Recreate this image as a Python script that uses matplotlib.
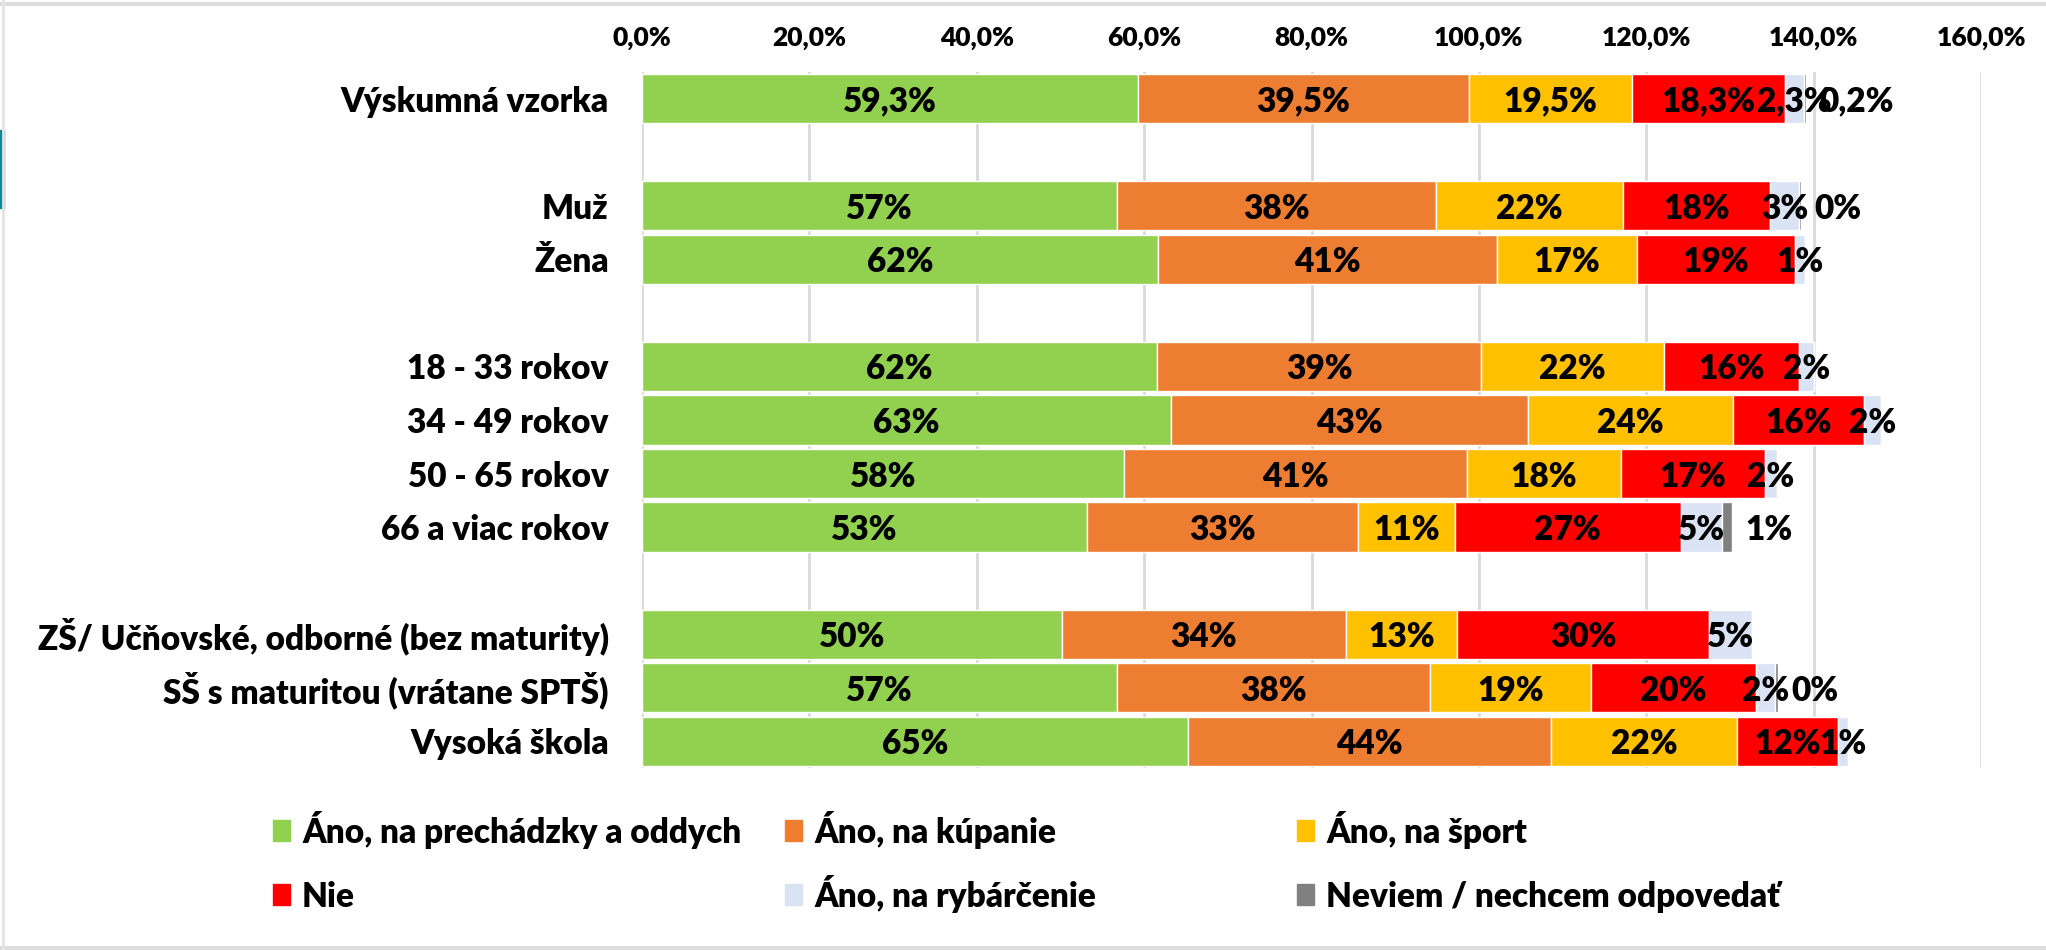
import matplotlib.pyplot as plt
import matplotlib.patches as mpatches
from matplotlib.ticker import FuncFormatter, MultipleLocator
import numpy as np

plt.rcParams['font.family'] = ['Lato', 'DejaVu Sans']

CATEGORIES = ["Výskumná vzorka", "Muž", "Žena",
              "18 - 33 rokov", "34 - 49 rokov", "50 - 65 rokov", "66 a viac rokov",
              "ZŠ/ Učňovské, odborné (bez maturity)", "SŠ s maturitou (vrátane SPTŠ)", "Vysoká škola"]
GROUP_SIZES = [1, 2, 4, 3]

SERIES = ["Áno, na prechádzky a oddych", "Áno, na kúpanie", "Áno, na šport",
          "Nie", "Áno, na rybárčenie", "Neviem / nechcem odpovedať"]
COLORS = ["#92D050", "#ED7D31", "#FFC000", "#FF0000", "#DAE3F3", "#808080"]

prechadzky = [59.3, 56.8, 61.6, 61.5, 63.2, 57.6, 53.2, 50.2, 56.8, 65.2]
kupanie = [39.5, 38.1, 40.6, 38.8, 42.7, 41.0, 32.4, 33.9, 37.4, 43.4]
sport = [19.5, 22.3, 16.7, 21.8, 24.5, 18.4, 11.5, 13.3, 19.2, 22.3]
nie = [18.3, 17.6, 18.9, 16.1, 15.6, 17.2, 27.0, 30.1, 19.7, 12.0]
rybarcenie = [2.3, 3.4, 1.2, 1.9, 2.0, 1.4, 5.0, 5.1, 2.3, 1.2]
neviem = [0.2, 0.3, 0.0, 0.0, 0.0, 0.0, 1.1, 0.0, 0.3, 0.0]

lab_prechadzky = ["59,3%", "57%", "62%", "62%", "63%", "58%", "53%", "50%", "57%", "65%"]
lab_kupanie = ["39,5%", "38%", "41%", "39%", "43%", "41%", "33%", "34%", "38%", "44%"]
lab_sport = ["19,5%", "22%", "17%", "22%", "24%", "18%", "11%", "13%", "19%", "22%"]
lab_nie = ["18,3%", "18%", "19%", "16%", "16%", "17%", "27%", "30%", "20%", "12%"]
lab_rybarcenie = ["2,3%", "3%", "1%", "2%", "2%", "2%", "5%", "5%", "2%", "1%"]
lab_neviem = ["0,2%", "0%", "", "", "", "", "1%", "", "0%", ""]

values = [prechadzky, kupanie, sport, nie, rybarcenie, neviem]
labels = [lab_prechadzky, lab_kupanie, lab_sport, lab_nie, lab_rybarcenie, lab_neviem]

W = "heavy"

# row positions: groups separated by one empty row
ys = []
pos = 0
for g in GROUP_SIZES:
    for i in range(g):
        ys.append(pos)
        pos += 1
    pos += 1
ys = np.array(ys)

fig = plt.figure(figsize=(20.46, 9.5), dpi=100)
ax = fig.add_axes([642 / 2046, 1 - 768 / 950, (1981 - 642) / 2046, (768 - 72) / 950])

left = np.zeros(len(CATEGORIES))
for si, (vals, labs) in enumerate(zip(values, labels)):
    vals = np.array(vals)
    ax.barh(ys, vals, left=left, height=0.92, color=COLORS[si], zorder=2,
            edgecolor="white", linewidth=1.0, label=SERIES[si])
    for y, l, v, t in zip(ys, left, vals, labs):
        if not t:
            continue
        if si == 5:
            ax.text(l + v + 1.6, y, t, ha="left", va="center_baseline",
                    fontsize=24, fontweight=W, zorder=3)
        else:
            ax.text(l + v / 2, y, t, ha="center", va="center_baseline",
                    fontsize=24, fontweight=W, zorder=3)
    left = left + vals

ax.set_xlim(0, 160)
ax.set_ylim(ys.max() + 0.5, -0.5)
ax.xaxis.set_major_locator(MultipleLocator(20))
ax.xaxis.set_major_formatter(FuncFormatter(lambda x, p: f"{x:.1f}%".replace(".", ",")))
ax.xaxis.tick_top()
ax.tick_params(axis="x", length=0, pad=16, labelsize=19)
ax.set_yticks(ys, labels=CATEGORIES)
ax.tick_params(axis="y", length=0, pad=24, labelsize=24)
for t in ax.get_xticklabels() + ax.get_yticklabels():
    t.set_fontweight(W)
ax.xaxis.grid(True, color="#D9D9D9", linewidth=2)
ax.set_axisbelow(True)
for s in ax.spines.values():
    s.set_visible(False)

# legend: three columns, two rows, laid out like the original
col_x = [273, 785, 1297]
row_y = [831, 895]
for si, name in enumerate(SERIES):
    x = col_x[si % 3]
    y = row_y[si // 3]
    fig.add_artist(mpatches.Rectangle((x / 2046, 1 - (y + 10) / 950), 17 / 2046, 21 / 950,
                                      color=COLORS[si], transform=fig.transFigure))
    fig.text((x + 29) / 2046, 1 - (y + 12) / 950, name, ha="left", va="baseline",
             fontsize=24, fontweight=W)

# frame of the slide
fig.add_artist(plt.Line2D([0, 1], [1 - 4 / 950, 1 - 4 / 950], color="#DDDDDD", linewidth=3))
fig.add_artist(plt.Line2D([0, 1], [2 / 950, 2 / 950], color="#DDDDDD", linewidth=3))
fig.add_artist(plt.Line2D([3 / 2046, 3 / 2046], [0, 1], color="#E4E4E4", linewidth=2))
fig.add_artist(mpatches.Rectangle((0, 1 - 208 / 950), 4 / 2046, 78 / 950,
                                  color="#0E8A8F", transform=fig.transFigure))

fig.savefig("out.png", dpi=100)
